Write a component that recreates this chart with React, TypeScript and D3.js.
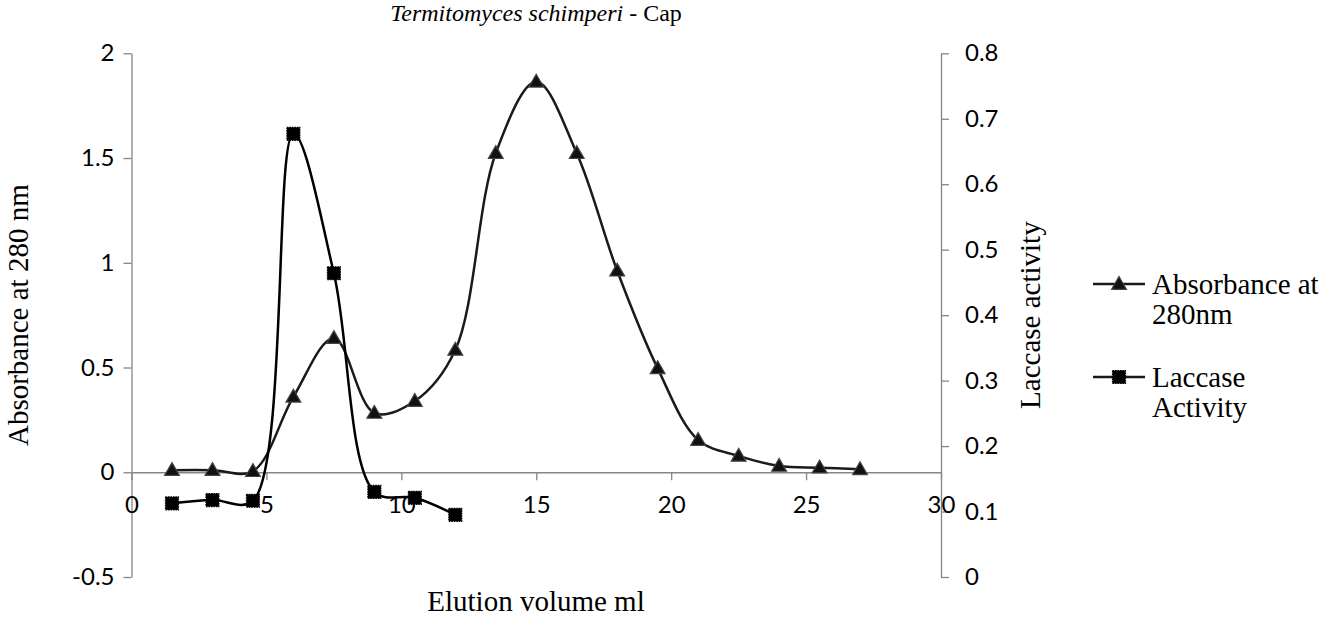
import { useEffect, useRef } from 'react';
import * as d3 from 'd3';

const elution = [1.5, 3, 4.5, 6, 7.5, 9, 10.5, 12, 13.5, 15, 16.5, 18, 19.5, 21, 22.5, 24, 25.5, 27];
const absorbance = [0.01, 0.01, 0.005, 0.36, 0.64, 0.283, 0.34, 0.584, 1.523, 1.864, 1.523, 0.962, 0.496, 0.154, 0.078, 0.03, 0.022, 0.014];
const laccaseElution = [1.5, 3, 4.5, 6, 7.5, 9, 10.5, 12];
const laccase = [0.1125, 0.1175, 0.1165, 0.677, 0.464, 0.13, 0.121, 0.095];

const xTicks = [0, 5, 10, 15, 20, 25, 30];
const leftTicks = [-0.5, 0, 0.5, 1, 1.5, 2];
const rightTicks = [0, 0.1, 0.2, 0.3, 0.4, 0.5, 0.6, 0.7, 0.8];

const W = 1340;
const H = 619;
const SANS = 'Lato, "Open Sans", sans-serif';
const SERIF = '"Liberation Serif", "Times New Roman", serif';
const AXIS = '#868686';
const INK = '#1a1a1a';

export default function App() {
  const svgRef = useRef<SVGSVGElement | null>(null);

  useEffect(() => {
    document.body.style.margin = '0';
    document.body.style.overflow = 'hidden';
    if (!svgRef.current) return;
    const svg = d3.select(svgRef.current);
    svg.selectAll('*').remove();

    const x = d3.scaleLinear().domain([0, 30]).range([131.5, 941]);
    const yL = d3.scaleLinear().domain([-0.5, 2]).range([577, 53.3]);
    const yR = d3.scaleLinear().domain([0, 0.8]).range([577, 53.3]);
    const fmt = (d: d3.NumberValue) => String(d);

    // title
    const title = svg
      .append('text')
      .attr('x', 536)
      .attr('y', 21)
      .attr('text-anchor', 'middle')
      .attr('font-family', SERIF)
      .attr('font-size', 24);
    title
      .append('tspan')
      .attr('font-family', SERIF)
      .attr('font-style', 'italic')
      .text('Termitomyces schimperi');
    title.append('tspan').attr('font-family', SERIF).text(' - Cap');

    // left axis
    const gl = svg.append('g').attr('transform', `translate(${x(0)},0)`);
    gl.call(d3.axisLeft(yL).tickValues(leftTicks).tickSize(8).tickSizeOuter(0).tickPadding(9).tickFormat(fmt));
    // right axis
    const gr = svg.append('g').attr('transform', `translate(${x(30)},0)`);
    gr.call(d3.axisRight(yR).tickValues(rightTicks).tickSize(8).tickSizeOuter(0).tickPadding(16).tickFormat(fmt));
    // x axis at y = 0
    const gx = svg.append('g').attr('transform', `translate(0,${yL(0)})`);
    gx.call(d3.axisBottom(x).tickValues(xTicks).tickSize(8).tickSizeOuter(0).tickPadding(16).tickFormat(fmt));

    [gl, gr, gx].forEach(g => {
      g.select('.domain').attr('stroke', AXIS).attr('stroke-width', 1.3);
      g.selectAll('.tick line').attr('stroke', AXIS).attr('stroke-width', 1.3);
      g.selectAll('.tick text')
        .attr('fill', '#000')
        .style('font-family', SANS)
        .style('font-size', '24px');
    });

    // axis titles
    svg
      .append('text')
      .attr('transform', `translate(28,${(53.3 + 577) / 2}) rotate(-90)`)
      .attr('text-anchor', 'middle')
      .style('font-family', SERIF)
      .style('font-size', '29px')
      .text('Absorbance at 280 nm');
    svg
      .append('text')
      .attr('transform', `translate(1040,${(53.3 + 577) / 2}) rotate(-90)`)
      .attr('text-anchor', 'middle')
      .style('font-family', SERIF)
      .style('font-size', '29px')
      .text('Laccase activity');
    svg
      .append('text')
      .attr('x', 536)
      .attr('y', 611)
      .attr('text-anchor', 'middle')
      .style('font-family', SERIF)
      .style('font-size', '29px')
      .text('Elution volume ml');

    // lines
    const absLine = d3
      .line<number>()
      .x((d, i) => x(elution[i]))
      .y(d => yL(d))
      .curve(d3.curveCatmullRom);
    const lacLine = d3
      .line<number>()
      .x((d, i) => x(laccaseElution[i]))
      .y(d => yR(d))
      .curve(d3.curveCatmullRom);

    const tri = d3.symbol(d3.symbolTriangle, 95);

    svg
      .append('path')
      .datum(absorbance)
      .attr('d', absLine)
      .attr('fill', 'none')
      .attr('stroke', INK)
      .attr('stroke-width', 2.5);

    svg
      .selectAll('.tri')
      .data(absorbance)
      .enter()
      .append('path')
      .attr('class', 'tri')
      .attr('d', tri)
      .attr('transform', (d, i) => `translate(${x(elution[i])},${yL(d) + 1})`)
      .attr('fill', '#111')
      .attr('stroke', '#444')
      .attr('stroke-width', 1.2);

    svg
      .append('path')
      .datum(laccase)
      .attr('d', lacLine)
      .attr('fill', 'none')
      .attr('stroke', '#000')
      .attr('stroke-width', 2.5);

    const sq = 13;
    svg
      .selectAll('.sq')
      .data(laccase)
      .enter()
      .append('rect')
      .attr('class', 'sq')
      .attr('x', (d, i) => x(laccaseElution[i]) - sq / 2)
      .attr('y', d => yR(d) - sq / 2)
      .attr('width', sq)
      .attr('height', sq)
      .attr('fill', '#000')
      .attr('stroke', '#000')
      .attr('stroke-width', 1.2)
      .attr('stroke-dasharray', '1.5 1');

    // legend
    const lg = svg.append('g');
    const legendRows = [
      { y: 284, lines: ['Absorbance at', '280nm'], marker: 'tri' },
      { y: 377, lines: ['Laccase', 'Activity'], marker: 'sq' },
    ];
    legendRows.forEach(r => {
      lg.append('line')
        .attr('x1', 1093)
        .attr('x2', 1145)
        .attr('y1', r.y)
        .attr('y2', r.y)
        .attr('stroke', INK)
        .attr('stroke-width', 2.5);
      if (r.marker === 'tri') {
        lg.append('path')
          .attr('d', tri)
          .attr('transform', `translate(1119,${r.y + 1})`)
          .attr('fill', '#111')
          .attr('stroke', '#444')
          .attr('stroke-width', 1.2);
      } else {
        lg.append('rect')
          .attr('x', 1119 - sq / 2)
          .attr('y', r.y - sq / 2)
          .attr('width', sq)
          .attr('height', sq)
          .attr('fill', '#000')
          .attr('stroke', '#000')
          .attr('stroke-width', 1.2)
          .attr('stroke-dasharray', '1.5 1');
      }
      r.lines.forEach((t, k) => {
        lg.append('text')
          .attr('x', 1152)
          .attr('y', r.y + 10 + k * 30)
          .style('font-family', SERIF)
          .style('font-size', '29px')
          .text(t);
      });
    });
  }, []);

  return <svg ref={svgRef} width={W} height={H} style={{ display: 'block', background: '#fff' }} />;
}
